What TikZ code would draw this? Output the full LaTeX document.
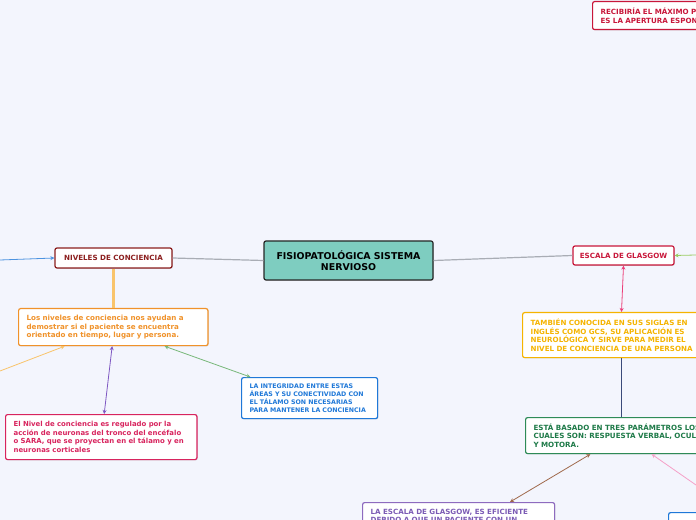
\documentclass[tikz,border=0pt]{standalone}
\usepackage{fontspec}
\setmainfont{DejaVu Sans}
\usetikzlibrary{arrows.meta,shadows}
\definecolor{bgc}{HTML}{F3F5FD}
\definecolor{cfill}{HTML}{7ECDC0}
\definecolor{nivc}{HTML}{8B1E1E}
\definecolor{orc}{HTML}{F0922A}
\definecolor{orl}{HTML}{F9C46B}
\definecolor{blc}{HTML}{1F78D8}
\definecolor{pkc}{HTML}{D8245E}
\definecolor{esc}{HTML}{C8173A}
\definecolor{yec}{HTML}{F5B400}
\definecolor{grc}{HTML}{2E8B57}
\definecolor{grt}{HTML}{1E7A48}
\definecolor{puc}{HTML}{8E6BBF}
\definecolor{put}{HTML}{7B5BB5}
\definecolor{gyl}{HTML}{A9ADB5}
\definecolor{grl}{HTML}{78B87A}
\definecolor{lgl}{HTML}{9ACD62}
\definecolor{pkl}{HTML}{EC407A}
\definecolor{pkl2}{HTML}{F5A0C8}
\definecolor{dbl}{HTML}{3A4A7A}
\definecolor{brl}{HTML}{A0694B}
\definecolor{pul}{HTML}{7E57C2}
\begin{document}
\begin{tikzpicture}[x=0.75pt,y=-0.75pt,
  bx/.style={draw=#1, fill=white, rounded corners=1.5pt, line width=0.9pt,
    drop shadow={opacity=0.25,shadow xshift=0.6pt,shadow yshift=-0.6pt},
    anchor=north west, align=left, inner xsep=6pt, inner ysep=0pt,
    font=\fontsize{5.35}{6.5}\selectfont\bfseries},
  tip/.style={-{Stealth[length=3pt,width=3pt]}},
  tips/.style={{Stealth[length=3pt,width=3pt]}-{Stealth[length=3pt,width=3pt]}},
  ln/.style={line width=0.6pt}]
\clip (0,0) rectangle (696,520);
\fill[bgc] (0,0) rectangle (696,520);

% boxes
\node[bx=esc, text=esc, text width=150pt, minimum height=21pt] (top) at (592,1)
  {RECIBIRÍA EL MÁXIMO PUNTAJE\\ES LA APERTURA ESPONTÁNEA};
\node[draw=black!85, fill=cfill, rounded corners=1.5pt, line width=0.9pt,
  drop shadow={opacity=0.25,shadow xshift=0.6pt,shadow yshift=-0.6pt},
  minimum width=126.75pt, minimum height=29.25pt, align=center, inner sep=0pt,
  font=\fontsize{7.05}{8.6}\selectfont\bfseries] (c) at (348.5,260.5)
  {FISIOPATOLÓGICA SISTEMA\\NERVIOSO};
\node[bx=nivc, text=nivc, anchor=center, align=center, minimum width=87.75pt,
  minimum height=15pt, inner xsep=0pt] (niv) at (113.5,258) {NIVELES DE CONCIENCIA};
\node[bx=orc, text=orc, text width=130pt, minimum height=27.75pt] (or) at (18,308)
  {Los niveles de conciencia nos ayudan a\\demostrar si el paciente se encuentra\\orientado en tiempo, lugar y persona.};
\node[bx=blc, text=blc, text width=90pt, minimum height=30.75pt,
  font=\fontsize{4.7}{6}\selectfont\bfseries] (bl) at (241,377)
  {LA INTEGRIDAD ENTRE ESTAS\\ÁREAS Y SU CONECTIVIDAD CON\\EL TÁLAMO SON NECESARIAS\\PARA MANTENER LA CONCIENCIA};
\node[bx=pkc, text=pkc, text width=131.5pt, minimum height=33.75pt,
  font=\fontsize{5.2}{6.4}\selectfont\bfseries] (pk) at (5,414)
  {El Nivel de conciencia es regulado por la\\acción de neuronas del tronco del encéfalo\\o SARA, que se proyectan en el tálamo y en\\neuronas corticales};
\node[bx=esc, text=esc, anchor=center, align=center, minimum width=75.75pt,
  minimum height=14.25pt, inner xsep=0pt] (esg) at (623.5,255.5) {ESCALA DE GLASGOW};
\node[bx=yec, text=yec, text width=150pt, minimum height=33.75pt] (ye) at (522,312)
  {TAMBIÉN CONOCIDA EN SUS SIGLAS EN\\INGLÉS COMO GCS, SU APLICACIÓN ES\\NEUROLÓGICA Y SIRVE PARA MEDIR EL\\NIVEL DE CONCIENCIA DE UNA PERSONA};
\node[bx=grc, text=grt, text width=150pt, minimum height=27pt] (gr) at (525,417)
  {ESTÁ BASADO EN TRES PARÁMETROS LOS\\CUALES SON: RESPUESTA VERBAL, OCULAR\\Y MOTORA.};
\node[bx=puc, text=put, text width=132pt, inner ysep=4.6pt] (pu) at (362,502)
  {LA ESCALA DE GLASGOW, ES EFICIENTE\\DEBIDO A QUE UN PACIENTE CON UN};
\node[bx=blc, text=blc, text width=60pt, minimum height=30pt] (br) at (668,512) {};

% free ends
\coordinate (lft) at (0,260);
\coordinate (lft2) at (0,371);
\coordinate (rgt) at (696,255);
\coordinate (rgt2) at (696,485);

% connectors
\draw[gyl, line width=0.9pt] (c.west) -- (niv.east);
\draw[gyl, line width=0.9pt] (c.east) -- (esg.west);
\draw[ln, blc!80, tip] (lft) -- (niv.west);
\draw[orl, line width=2.2pt] (niv.south) -- (or.north -| niv.south);
\draw[ln, orl, tip] (lft2) -- ([xshift=35pt]or.south west);
\draw[ln, pul, tips] ([xshift=-7pt]pk.north -| niv.south) -- ([xshift=-1pt]or.south -| niv.south);
\draw[ln, grl, tips] ([xshift=-33pt]or.south east) -- ([xshift=7pt]bl.north west);
\draw[ln, lgl, tip] (rgt) -- (esg.east);
\draw[ln, pkl, tips] (esg.south) -- ([xshift=-1.5pt]esg.south |- ye.north);
\draw[ln, dbl] ([xshift=-1.5pt]esg.south |- ye.south) -- ([xshift=-1.5pt]esg.south |- gr.north);
\draw[ln, brl, tips] ([xshift=49pt]gr.south west) -- ([xshift=111pt]pu.north west);
\draw[ln, pkl2, tip] (rgt2) -- ([xshift=95pt]gr.south west);
\end{tikzpicture}
\end{document}
